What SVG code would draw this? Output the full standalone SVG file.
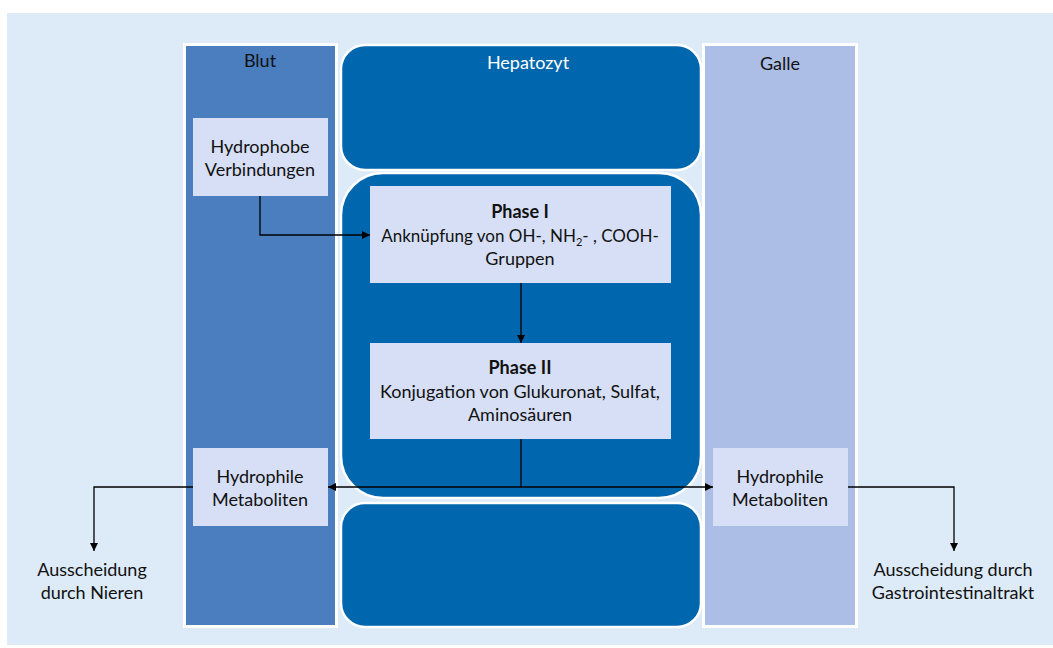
<svg xmlns="http://www.w3.org/2000/svg" width="1053" height="648" viewBox="0 0 1053 648">
<defs>
<marker id="ah" viewBox="0 0 10 10" refX="10" refY="5" markerWidth="8" markerHeight="8" markerUnits="userSpaceOnUse" orient="auto">
<path d="M0,0 L10,5 L0,10 Z" fill="#000"/>
</marker>
<style>
text{font-family:Lato,"Liberation Sans",sans-serif;font-size:18px;fill:#111;text-anchor:middle}
.w{fill:#fff}
.b{font-weight:bold}
.box{fill:#d6dff5}
.col{stroke:#fff;stroke-width:3}
.hep{fill:#0066ae;stroke:#fff;stroke-width:2.5}
.ln{fill:none;stroke:#000;stroke-width:1.3}
</style>
</defs>
<rect x="7" y="13" width="1046" height="632" fill="#ddeaf7"/>
<g id="blut"><rect class="col" x="184.5" y="44.5" width="152" height="582" fill="#4a7ebf"/><text x="260" y="67">Blut</text></g>
<g id="galle"><rect class="col" x="703.5" y="44.5" width="153" height="582" fill="#adbee6"/><text x="780" y="70">Galle</text></g>
<g id="hepatozyt-top"><rect class="hep" x="341" y="45" width="360" height="125" rx="24"/><text class="w" x="528" y="69">Hepatozyt</text></g>
<g id="hepatozyt-mid"><rect class="hep" x="341" y="173" width="360" height="325" rx="42"/></g>
<g id="hepatozyt-bot"><rect class="hep" x="341" y="503" width="360" height="124" rx="24"/></g>
<g id="hydrophobe"><rect class="box" x="193" y="118" width="135" height="78"/><text x="260" y="153">Hydrophobe</text><text x="260" y="176">Verbindungen</text></g>
<g id="phase1"><rect class="box" x="370" y="186" width="301" height="97"/><text class="b" x="520" y="218">Phase I</text><text x="520" y="242" style="font-size:17px">Anknüpfung von OH-, NH<tspan font-size="11" dy="4">2</tspan><tspan dy="-4">- , COOH-</tspan></text><text x="520" y="265">Gruppen</text></g>
<g id="phase2"><rect class="box" x="370" y="343" width="301" height="96"/><text class="b" x="520" y="374">Phase II</text><text x="520" y="398">Konjugation von Glukuronat, Sulfat,</text><text x="520" y="421">Aminosäuren</text></g>
<g id="hydrophile-l"><rect class="box" x="193" y="448" width="135" height="78"/><text x="260" y="483">Hydrophile</text><text x="260" y="506">Metaboliten</text></g>
<g id="hydrophile-r"><rect class="box" x="713" y="448" width="135" height="78"/><text x="780" y="483">Hydrophile</text><text x="780" y="506">Metaboliten</text></g>
<g id="niere"><text x="92" y="576">Ausscheidung</text><text x="92" y="599">durch Nieren</text></g>
<g id="gi"><text x="953" y="576">Ausscheidung durch</text><text x="953" y="599">Gastrointestinaltrakt</text></g>
<g id="connectors">
<path class="ln" d="M260,196 V235 H370" marker-end="url(#ah)"/>
<path class="ln" d="M521,283 V343" marker-end="url(#ah)"/>
<path class="ln" d="M521,439 V487"/>
<path class="ln" d="M521,487 H328" marker-end="url(#ah)"/>
<path class="ln" d="M521,487 H713" marker-end="url(#ah)"/>
<path class="ln" d="M193,487 H94 V551" marker-end="url(#ah)"/>
<path class="ln" d="M848,487 H954 V551" marker-end="url(#ah)"/>
</g>
</svg>
